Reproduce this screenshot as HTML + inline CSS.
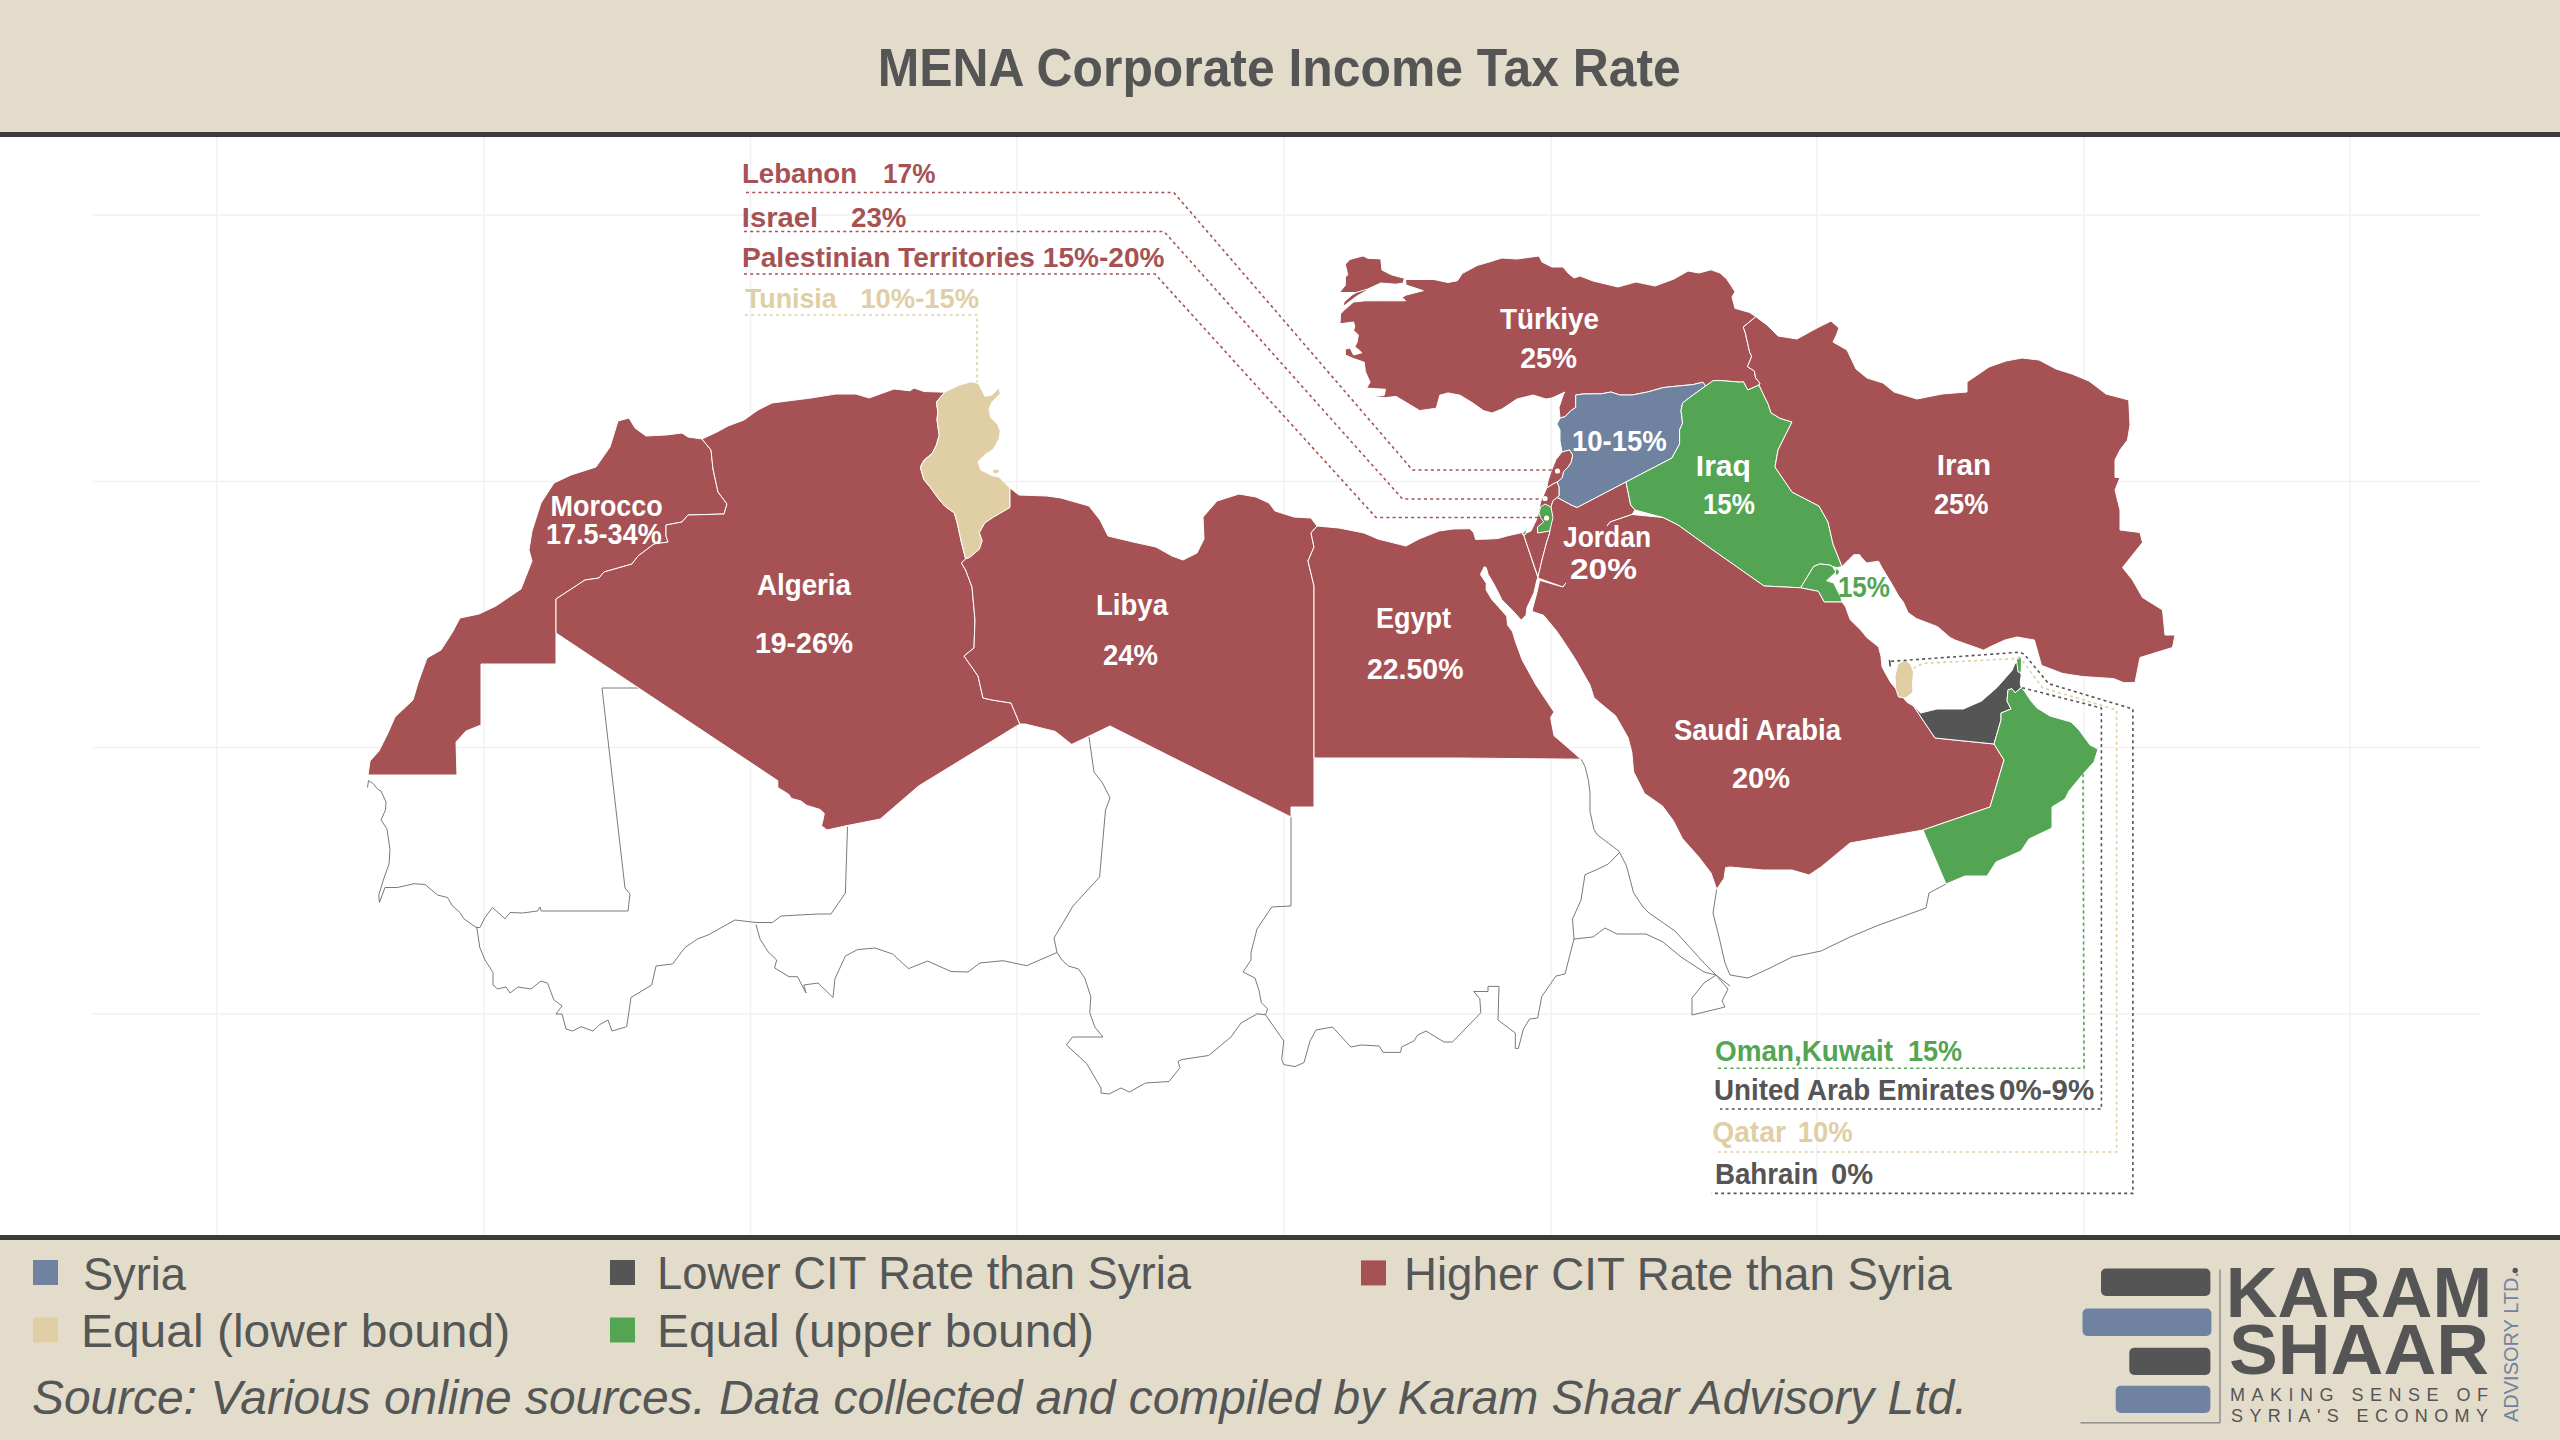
<!DOCTYPE html><html><head><meta charset="utf-8"><style>html,body{margin:0;padding:0;background:#fff;width:2560px;height:1440px;overflow:hidden}svg{display:block;font-family:"Liberation Sans",sans-serif}</style></head><body>
<svg width="2560" height="1440" viewBox="0 0 2560 1440">
<rect x="0" y="0" width="2560" height="1440" fill="#fff"/>
<g stroke="#f1f1f1" stroke-width="1.4"><line x1="217" y1="137" x2="217" y2="1235"/><line x1="484" y1="137" x2="484" y2="1235"/><line x1="750.5" y1="137" x2="750.5" y2="1235"/><line x1="1017" y1="137" x2="1017" y2="1235"/><line x1="1284" y1="137" x2="1284" y2="1235"/><line x1="1551" y1="137" x2="1551" y2="1235"/><line x1="1817" y1="137" x2="1817" y2="1235"/><line x1="2084" y1="137" x2="2084" y2="1235"/><line x1="2350" y1="137" x2="2350" y2="1235"/><line x1="93" y1="215" x2="2480" y2="215"/><line x1="93" y1="481.5" x2="2480" y2="481.5"/><line x1="93" y1="747.5" x2="2480" y2="747.5"/><line x1="93" y1="1014" x2="2480" y2="1014"/></g>
<g fill="none" stroke="#7a7a7a" stroke-width="1.0" stroke-linejoin="round"><polyline points="367.5,787.5 368.5,780.5 372.5,783 378,789.5 381,791 386,802 385.5,810 381,820 387,829 390,849.6 389,864 383.75,878.75 378.75,895 379.4,902.5 385,887.5 397.5,887.5 413.75,883.75 425,884.4 437.5,895 447.5,897.5 452.5,906 460,912.5 463.75,918.75 476.25,927.5 480,927.5 485,917.5 492.5,907.5 505,918.75 510,912.5 522.5,913 537.5,911 540,907 541.25,911 628,911 630,894 625,888 602,688 641.5,688"/><polyline points="476.7,926.7 479.8,947.5 485,960 493,972.5 493,985 497.5,989 506,987 510,993 518,987 531,989 541,981 547.5,983 553.75,999.6 562,1006 556,1014 562,1014 566,1029 572.5,1031 581,1026.7 593,1031 599.6,1024.6 608,1020 612,1031 626.7,1026.7 631,997.5 651.7,985 656,966 672.5,964 685,947.5 697.5,939 708,935 735,920 756,922.5 772.5,922.5 781,916 818,914 831,914 845.4,893 847.5,826.7"/><polyline points="756,924.6 760,939 768,951.7 776.7,960 774.6,968 789,976.7 797.5,976.7 806,993 803.75,985 818,983 833,997.5 835,978.75 845.4,956 857.5,949.6 875,948 892.5,954 908.6,968.6 927.5,961 951,971.5 968,972 980,963 1003,960.7 1026.7,965.7 1057,952.5"/><polyline points="1089,737 1094,772 1102.5,783 1110,798 1105.5,810 1099.6,877 1073,906 1054,938 1057,952.5"/><polyline points="1057,952.5 1062,960 1068.4,966 1078.6,969 1084.7,978 1090.8,996.6 1089.8,1012.8 1094.8,1027 1103,1037 1072.5,1037 1066.4,1045 1086.7,1063.6 1101,1088 1101,1093 1109,1094 1121,1088 1129.4,1092 1145.6,1083 1169,1081.5 1180,1067.7 1178,1061.6 1182,1059.5 1208.6,1055.5 1231,1037 1241,1023 1257.3,1013.8 1265.5,1014.8"/><polyline points="1291,817 1291,906 1271.7,907 1257,929 1251,952.5 1251,960 1243,972 1255,978 1259,990.5 1261.4,1002.7 1267.5,1008.8 1265.5,1014.8 1283.8,1041 1281.7,1059.5 1283.8,1064.6 1295,1066.6 1304,1062.6 1310,1041 1316,1030 1332.5,1027 1350.8,1047 1361,1045 1379.2,1046 1383,1052.4 1400.6,1052.4 1401.6,1047 1413.8,1041 1417.8,1035 1426,1031 1444,1042 1452.4,1042 1480.8,1012.8 1479.8,998.6 1473.7,991.5 1488,991.5 1488,986.4 1499,986.4 1498,1020 1515.3,1033 1515.3,1048.4 1518.4,1048.4 1523.4,1029 1529.6,1019 1537.7,1018 1541.7,996.6 1556,976 1565,974 1574,939 1572.5,919 1581,900 1585,874.7 1597.5,869.3 1608.3,864 1619,853"/><polyline points="1581,759.2 1585,766.4 1588.5,780.8 1590,793.5 1590,811.5 1594,829.6 1597.5,835 1612,845.8 1619,851.3 1626.4,865.7 1633.6,892.8 1643,907 1649,913 1675,931 1704,963 1716,975 1730,986"/><polyline points="1574,939 1593,937 1605,928 1617,934 1646,934 1663,942 1681,957 1704,972 1716,975"/><polyline points="1716,975 1728,989 1722,1001 1725,1007 1692,1015 1692,998 1704,983 1716,975"/><polyline points="1716.7,889.2 1713,913 1719,937 1725,963 1730,975 1748,978 1768,969 1792,957 1821,951 1850,937 1879,925 1926,908 1929,893 1946,884"/></g>
<g stroke="#fff" stroke-width="1.0" stroke-linejoin="round"><polygon fill="#A65254" points="618,421 629,418 635,428 646,436 666,435 682,433 688,437 702,439 711,450 713,469 718,492 727,504 724,514 688,515 682,522 666,525 666,536 668,542 654,544 638,556 632,564 604,572 599,578 585,580 556,599 556,633 556,664 481,664 481,725 466,731 456,742 457,775 368,775 370,761 379,751 388,733 395,717 413,700 418,683 427,658 441,650 452,633 460,618 479,614 496,606 521,589 532,561 529,550 532,531 541,503 554,483 571,475 596,467 610,447"/><polygon fill="#A65254" points="702,439 717,432 728,426 744,420 758,410 772,403 811,398 836,394 856,394 869,398 894,389 910,390.8 914,388 924,391.5 944.7,392.2 936.4,402 937.8,411.7 937,420 939.2,435.3 936.4,445 932.2,453.3 923.9,460.3 920.4,467.2 923.9,479.7 930.8,488 937.8,497.8 944.7,506 954.4,513 957.2,522.8 961.4,542.2 965.6,558.9 961.4,563 965.6,570 972,587 975,620 974,648 964,656 978,676 983,698 992,700 1011,703 1019.8,724 918.6,786 880.3,819 846,825.8 827,830 821.5,825.8 822.9,820.3 824.3,813.5 820,809.4 806.5,805.3 801,801 791.4,798.4 788.7,794.3 777.8,787.5 777.8,780.7 556,633 556,599 585,580 599,578 604,572 632,564 638,556 654,544 668,542 666,536 666,525 682,522 688,515 724,514 727,504 718,492 713,469 711,450"/><polygon fill="#E0CFA5" points="944.7,392.2 936.4,402 937.8,411.7 937,420 939.2,435.3 936.4,445 932.2,453.3 923.9,460.3 920.4,467.2 923.9,479.7 930.8,488 937.8,497.8 944.7,506 954.4,513 957.2,522.8 961.4,542.2 965.6,558.9 965.6,558.9 969.7,557.5 979.4,549.2 982.2,540.8 979.4,532.5 985,522.8 993.3,517.2 1010,507.5 1010,488 1004.4,482.5 998.9,477 992,475.6 980.8,470 978,461.7 985,454.7 993.3,449.2 998.9,439.4 1000.3,431 997.5,424.2 990.6,417.2 989.2,408.9 992,402 1000.3,393.6 998.9,388 992,395 985,396.4 980.8,388 978,383.2 971.1,381.8 958.6,385.3 950.3,389.4"/><polygon fill="#A65254" points="1010,488 1019,495 1047,496 1061,498 1089,506 1100,520 1108,536 1133,542 1156,547 1172,556 1183,560 1197,553 1204,539 1203,517 1217,501 1239,494 1256,497 1269,503 1275,511 1294,517 1311,518 1317,526 1311,533 1314,547 1308,561 1314,586 1314,758 1314,807 1291,807 1291,817 1110,726 1071.7,744.4 1055.3,731.4 1025.2,724 1019.8,724 1011,703 992,700 983,698 978,676 964,656 974,648 975,620 972,587 965.6,570 961.4,563 965.6,558.9 965.6,558.9 969.7,557.5 979.4,549.2 982.2,540.8 979.4,532.5 985,522.8 993.3,517.2 1010,507.5"/><polygon fill="#A65254" points="1317,526 1339,528 1364,533 1378,539 1406,546 1419,539 1439,531 1453,529 1469.7,528.7 1473.6,532.6 1475.6,539.4 1489.2,539 1497.9,538.5 1508.6,535.6 1522.2,532.6 1524,536 1537.8,577.4 1536.8,580.3 1533.9,592.9 1527,607.5 1526,615.3 1521.2,620.1 1512.5,610.4 1501.8,599.7 1499,593.9 1494,584.2 1488.2,574.4 1486.2,567.6 1484.3,566.7 1480.4,574.4 1486.2,583.2 1486.2,590 1492,599.7 1499,607.5 1506.7,616.2 1507.6,625 1512.5,631.8 1515.4,641.5 1522.2,660 1536,685 1554,712 1550.6,717.6 1554,735.7 1568.6,748.3 1581,759.2 1458,758 1314,758 1314,586 1308,561 1314,547 1311,533"/><polygon fill="#A65254" points="1405.6,279.5 1412.6,279.5 1434,279.5 1448,282.5 1457.5,280.7 1462.2,273.6 1477.6,265.3 1490,261.8 1502,258 1517,259 1539,256 1542,262 1552,267 1563,267 1568,273 1574,278 1580,276 1593,281 1618,287 1636,282 1655,286 1674,279 1688,271 1699,273 1711,269.8 1720,273 1726.7,279 1735,291.7 1732,297 1735,308.3 1749.6,312.5 1755.8,316.7 1743.3,327 1745.4,333.3 1749.6,352 1751.7,356.25 1747.5,366.7 1754.4,371 1755.6,377.8 1760,383.3 1759,385 1747.8,390 1743.3,381.7 1740.6,382.2 1721,380.6 1713.3,380.6 1705.6,386 1702.8,382.2 1693,384.6 1678,386 1663,387.6 1647.5,392 1632,395 1620,395 1611,392 1601.7,393.75 1583,394 1575.7,395 1575.7,407.5 1571,410.6 1565,416.7 1560,418 1559,407.5 1563.5,394 1565,392 1552,398 1546,399 1533,395 1517,399 1502,409 1492,413 1483.5,410.6 1471.7,402.3 1460,395.2 1448,392.9 1439.8,395.2 1436.3,408.2 1419.7,410.6 1408,403.5 1396,396.4 1385.5,397.6 1371.3,396.4 1384.3,395.2 1385.5,389.3 1366.6,388.1 1370.1,382.2 1365.4,371.6 1364.2,362.2 1353.6,358.6 1345.3,355 1345.3,349.2 1350,348 1353.6,355 1361.9,352.7 1359.5,350.4 1354.8,346.8 1357.2,342 1358.3,335 1353.6,330.3 1354.8,326.7 1353.6,322 1340,323.8 1340.6,313.8 1345.3,309 1353.6,302 1365.4,300.8 1379.6,300.8 1405.6,300.8 1402,297.2 1406.7,294.9 1423.3,290.7 1406,285"/><polygon fill="#A65254" points="1363,288.5 1368.5,289.5 1357,296 1347,303.5 1343,306.5 1344,302 1352,295"/><polygon fill="#A65254" points="1345.3,264.2 1350,259.4 1363,255.9 1367.8,258.3 1380.8,258.9 1382,270 1391.4,274.8 1404.4,278.3 1403.2,283 1396,284.2 1380.8,283 1367.8,289 1356,292.5 1339.4,292.5 1345.3,285.4 1345.3,277.2 1347.7,274.8"/><polygon fill="#6F83A1" points="1575.7,395 1583,394 1601.7,393.75 1611,392 1620,395 1632,395 1647.5,392 1663,387.6 1678,386 1693,384.6 1702.8,382.2 1705.6,386 1693,395 1682.6,403 1681,410.6 1682.6,423 1679.6,430 1679.6,444 1673.5,455 1672,458 1626,482 1577,507.6 1571,505 1560,499 1557,497.6 1559,496 1559,487 1557,482 1562,478 1563.5,471.7 1568,467 1571,462.5 1572.6,455 1569.6,450 1562,452 1560,441 1560,430 1557,424 1560,418 1565,416.7 1571,410.6 1575.7,407.5"/><polygon fill="#A65254" points="1562,452 1569.6,450 1572.6,455 1571,462.5 1568,467 1563.5,471.7 1562,478 1557,482 1553,484 1546.7,488 1548,481 1551,471.7 1556,459.5"/><polygon fill="#A65254" points="1546.7,488 1553,484 1557,482 1559,487 1559,496 1557,497.6 1553,500.7 1551,507 1549.7,533 1546.7,542 1542,560 1538,577 1524,536 1524,534 1531,531 1537.5,517.5 1540.6,502"/><polygon fill="#A65254" points="1557,497.6 1560,499 1571,505 1577,507.6 1626,482 1630.7,505 1635,510 1632,514.5 1610,522 1563,587 1538.7,578.3 1538,577 1542,560 1546.7,542 1549.7,533 1551,507 1553,500.7"/><polygon fill="#53A553" points="1705.6,386 1713.3,380.6 1721,380.6 1740.6,382.2 1743.3,381.7 1747.8,390 1759,385 1765.6,398.9 1768.3,404.4 1771,412.8 1780,418.3 1792,422 1778,450 1775,467 1792,492 1819,506 1828,522 1833,544 1842,566.5 1837,567.7 1832.5,566.5 1829,564.8 1819.5,564 1813.6,566.5 1800.6,587.8 1764,586 1710,548 1678,525 1663,517.5 1635,510 1630.7,505 1626,482 1672,458 1673.5,455 1679.6,444 1679.6,430 1682.6,423 1681,410.6 1682.6,403 1693,395"/><polygon fill="#53A553" points="1800.6,587.8 1813.6,566.5 1819.5,564 1829,564.8 1832.5,566.5 1836,572 1826.6,580.7 1833.7,583 1840.8,597.2 1842,602 1824.2,602 1818.3,591.3"/><polygon fill="#53A553" points="1836,568 1839.5,571 1838.5,575 1835,574.8"/><polygon fill="#A65254" points="1755.8,316.7 1767,325 1778,336 1797,339 1817,328 1831,321 1839,328 1836,336 1833,342 1847,350 1856,369 1867,378 1883,383 1894,392 1917,399 1942,394 1967,392 1967,382 1989,367 2006,361 2022,358 2039,360 2056,369 2072,374 2089,381 2106,394 2128.75,400 2130,425 2127.5,440 2120,450 2115,460 2115,477.5 2120,477.5 2115,490 2120,510 2120,530 2140,532.5 2142.5,542.5 2122.5,567.5 2132.5,580 2142.5,597.5 2162.5,610 2165,635 2175,635 2172.5,647.5 2140,657.5 2135,682.5 2123.8,682.7 2113.6,678.6 2083,676.6 2062.8,673.5 2041.5,665.4 2034.4,640 2017,637 2005,640 1991.7,646 1983.6,650.2 1955,640 1950,637.4 1937.6,626.7 1916.3,618.5 1908,612.6 1903.3,602 1898.6,596 1892.7,585.4 1882,567.7 1878.5,561.2 1866.7,563 1861,557 1859.7,554.7 1853.8,554.7 1849,559.4 1842,566.5 1833,544 1828,522 1819,506 1792,492 1775,467 1778,450 1792,422 1780,418.3 1771,412.8 1768.3,404.4 1765.6,398.9 1759,385 1760,383.3 1755.6,377.8 1754.4,371 1747.5,366.7 1751.7,356.25 1749.6,352 1745.4,333.3 1743.3,327"/><polygon fill="#A65254" points="1539.7,580.3 1563,587 1610,522 1632,514.5 1663,517.5 1678,525 1710,548 1764,586 1800.6,587.8 1818.3,591.3 1824.2,602 1842,602 1845.5,606.7 1850.2,619.7 1861,630.3 1866.7,637.4 1878.5,646.8 1881,656.3 1882,667 1890.4,682.2 1907,702.3 1913.5,706 1935,738 1994,744 2004,760 1990,807 1923,830 1850,843 1821,867 1809,875 1792,870 1763,870 1730,867 1725.7,867.5 1724,878.4 1716.7,889.2 1711,873 1698.6,856.7 1682.4,838.6 1673.3,820.6 1662.5,806 1644.5,793.5 1633.6,771.8 1631.8,752 1628,737.5 1615.6,715.8 1604.7,706.8 1594,697.8 1590,685 1575.8,660 1567,646.4 1557.2,631.8 1543.6,615.3 1532,611.4 1532.9,607.5 1536.8,592.9 1539.7,580.3"/><polygon fill="#555555" points="1913.5,706 1920.6,713 1937,709 1963.3,709 1981.6,701 1996.8,687.7 2012,670.5 2015,663.4 2018,662 2021.2,675.5 2020.2,682.7 2021.2,687.7 2015,692.8 2012,688.75 2008,689.8 2007,701 2011,709 2001,713 2001,720 1994,744 1935,738"/><polygon fill="#53A553" points="2008,689.8 2012,688.75 2015,692.8 2021.2,687.7 2023,689 2031,701 2037,708 2050,716 2071,722 2079,730 2090,745 2098,749 2094,762 2083,774 2069,791 2065,799 2052,807 2052,828 2029,839 2021,851 1996,862 1987,876 1965,876 1946,884 1923,830 1990,807 2004,760 1994,744 2001,720 2001,713 2011,709 2007,701"/><polygon fill="#53A553" points="2016.5,660 2019,656 2021.5,658 2021.2,672.5 2018,672"/><polygon fill="#E0CFA5" points="993,469.5 998,469 999.5,472 996,474 992.5,472.5"/><polygon fill="#E0CFA5" points="1898,664 1905.5,659.5 1911,665 1913.5,672 1912.5,684 1913,692 1906,698 1898.5,697 1895.5,688 1895,676"/><polygon fill="#555555" points="1888,659 1891,660 1891.5,666 1889.5,668 1888.5,664"/><polygon fill="#53A553" points="1540.6,507 1545,504 1551,507 1553,517.5 1549.7,531 1537.5,533 1537.5,527 1543.6,522 1540.6,517.5 1539,513"/><polygon fill="#53A553" points="1522,534 1527.6,528 1525,535"/></g>
<g fill="#fff"></g>
<polyline points="1566,583 1607,526" stroke="#A65254" stroke-width="2.5" fill="none"/>
<polyline points="746,192.5 1173.75,192.5 1412.5,470 1557.5,470" fill="none" stroke="#A65254" stroke-width="1.6" stroke-dasharray="3 3.2"/>
<polyline points="744,231.5 1164,231.5 1402.5,499 1545,499" fill="none" stroke="#A65254" stroke-width="1.6" stroke-dasharray="3 3.2"/>
<polyline points="744,274 1155,274 1376,517.5 1546,517.5" fill="none" stroke="#A65254" stroke-width="1.6" stroke-dasharray="3 3.2"/>
<polyline points="745,315 977,315 977,382" fill="none" stroke="#E0CFA5" stroke-width="1.6" stroke-dasharray="3 3.2"/>
<g fill="#fff"><circle cx="1557.5" cy="471" r="2.6"/><circle cx="1545" cy="498.5" r="2.6"/><circle cx="1546.5" cy="518" r="2.6"/></g>
<polyline points="1891.2,661.3 2020.2,652.2 2024.2,654.2 2048.6,683.7 2132.9,709 2132.9,1193.4 1711.6,1193.4" fill="none" stroke="#555555" stroke-width="1.6" stroke-dasharray="3 3.2"/>
<polyline points="1913.5,668.4 1922.7,663.4 2020.2,658.3 2022,660.3 2042.5,687.7 2116.6,710 2116.6,1152 1714,1152" fill="none" stroke="#E0CFA5" stroke-width="1.6" stroke-dasharray="3 3.2"/>
<polyline points="2022.2,687.7 2101.4,708 2101.4,1109 1720,1109" fill="none" stroke="#555555" stroke-width="1.6" stroke-dasharray="3 3.2"/>
<polyline points="2083,774 2084,1068.2 1716,1068.2" fill="none" stroke="#53A553" stroke-width="1.6" stroke-dasharray="3 3.2"/>
<rect x="0" y="0" width="2560" height="132" fill="#E3DCCB"/>
<rect x="0" y="132" width="2560" height="5" fill="#3B3B3D"/>
<rect x="0" y="1235" width="2560" height="5" fill="#3B3B3D"/>
<rect x="0" y="1240" width="2560" height="200" fill="#E3DCCB"/>
<rect x="33" y="1260" width="25" height="25" fill="#6F83A1"/>
<rect x="33" y="1317.5" width="25" height="25" fill="#E0CFA5"/>
<rect x="610" y="1260" width="25" height="25" fill="#555555"/>
<rect x="610" y="1317.5" width="25" height="25" fill="#53A553"/>
<rect x="1361" y="1260.4" width="25" height="25" fill="#A65254"/>
<rect x="2101" y="1268.6" width="109.4" height="27.3" rx="5" fill="#555555"/>
<rect x="2082.5" y="1308.6" width="128.9" height="27.4" rx="5" fill="#6F83A1"/>
<rect x="2129.3" y="1347.7" width="81.1" height="27.3" rx="5" fill="#555555"/>
<rect x="2115.7" y="1385.7" width="94.7" height="27.3" rx="5" fill="#6F83A1"/>
<polyline points="2220,1269.5 2220,1422.9 2080.5,1422.9" fill="none" stroke="#6a6a6a" stroke-width="1"/>
<text x="0" y="0" font-size="19.5" fill="#6F83A1" textLength="150" lengthAdjust="spacingAndGlyphs" transform="translate(2517.8,1422) rotate(-90)">ADVISORY LTD.</text>
<circle cx="2515.2" cy="1270.5" r="2.7" fill="#555555"/>
<text x="877.87" y="86.4" font-size="54" font-weight="bold" font-style="normal" fill="#555555" textLength="802.94" lengthAdjust="spacingAndGlyphs">MENA Corporate Income Tax Rate</text>
<text x="741.94" y="183.4" font-size="28" font-weight="bold" font-style="normal" fill="#A65254" textLength="115.22" lengthAdjust="spacingAndGlyphs">Lebanon</text>
<text x="883.04" y="183.4" font-size="28" font-weight="bold" font-style="normal" fill="#A65254" textLength="52.40" lengthAdjust="spacingAndGlyphs">17%</text>
<text x="741.88" y="226.5" font-size="28" font-weight="bold" font-style="normal" fill="#A65254" textLength="76.24" lengthAdjust="spacingAndGlyphs">Israel</text>
<text x="850.97" y="226.5" font-size="28" font-weight="bold" font-style="normal" fill="#A65254" textLength="55.46" lengthAdjust="spacingAndGlyphs">23%</text>
<text x="741.99" y="267" font-size="28" font-weight="bold" font-style="normal" fill="#A65254" textLength="422.62" lengthAdjust="spacingAndGlyphs">Palestinian Territories 15%-20%</text>
<text x="745.00" y="308.2" font-size="28" font-weight="bold" font-style="normal" fill="#E0CFA5" textLength="91.61" lengthAdjust="spacingAndGlyphs">Tunisia</text>
<text x="860.38" y="308.2" font-size="28" font-weight="bold" font-style="normal" fill="#E0CFA5" textLength="118.73" lengthAdjust="spacingAndGlyphs">10%-15%</text>
<text x="1714.99" y="1061.3" font-size="29" font-weight="bold" font-style="normal" fill="#53A553" textLength="178.01" lengthAdjust="spacingAndGlyphs">Oman,Kuwait</text>
<text x="1907.88" y="1061.3" font-size="29" font-weight="bold" font-style="normal" fill="#53A553" textLength="54.19" lengthAdjust="spacingAndGlyphs">15%</text>
<text x="1713.98" y="1100" font-size="29" font-weight="bold" font-style="normal" fill="#555555" textLength="281.14" lengthAdjust="spacingAndGlyphs">United Arab Emirates</text>
<text x="1998.98" y="1100" font-size="29" font-weight="bold" font-style="normal" fill="#555555" textLength="95.23" lengthAdjust="spacingAndGlyphs">0%-9%</text>
<text x="1712.17" y="1142" font-size="29" font-weight="bold" font-style="normal" fill="#E0CFA5" textLength="73.83" lengthAdjust="spacingAndGlyphs">Qatar</text>
<text x="1797.75" y="1142" font-size="29" font-weight="bold" font-style="normal" fill="#E0CFA5" textLength="55.08" lengthAdjust="spacingAndGlyphs">10%</text>
<text x="1714.93" y="1184.4" font-size="29" font-weight="bold" font-style="normal" fill="#555555" textLength="103.23" lengthAdjust="spacingAndGlyphs">Bahrain</text>
<text x="1830.95" y="1184.4" font-size="29" font-weight="bold" font-style="normal" fill="#555555" textLength="42.11" lengthAdjust="spacingAndGlyphs">0%</text>
<text x="1499.89" y="329" font-size="29.5" font-weight="bold" font-style="normal" fill="#fff" textLength="99.13" lengthAdjust="spacingAndGlyphs">Türkiye</text>
<text x="1520.17" y="368" font-size="29.5" font-weight="bold" font-style="normal" fill="#fff" textLength="56.87" lengthAdjust="spacingAndGlyphs">25%</text>
<text x="1571.95" y="451" font-size="29.5" font-weight="bold" font-style="normal" fill="#fff" textLength="94.87" lengthAdjust="spacingAndGlyphs">10-15%</text>
<text x="1695.82" y="476" font-size="29.5" font-weight="bold" font-style="normal" fill="#fff" textLength="55.13" lengthAdjust="spacingAndGlyphs">Iraq</text>
<text x="1702.89" y="514" font-size="29.5" font-weight="bold" font-style="normal" fill="#fff" textLength="52.15" lengthAdjust="spacingAndGlyphs">15%</text>
<text x="1936.83" y="475" font-size="29.5" font-weight="bold" font-style="normal" fill="#fff" textLength="54.35" lengthAdjust="spacingAndGlyphs">Iran</text>
<text x="1933.96" y="514" font-size="29.5" font-weight="bold" font-style="normal" fill="#fff" textLength="54.56" lengthAdjust="spacingAndGlyphs">25%</text>
<text x="1562.96" y="546.5" font-size="29.5" font-weight="bold" font-style="normal" fill="#fff" textLength="88.08" lengthAdjust="spacingAndGlyphs">Jordan</text>
<text x="1569.97" y="579.4" font-size="29.5" font-weight="bold" font-style="normal" fill="#fff" textLength="67.06" lengthAdjust="spacingAndGlyphs">20%</text>
<text x="1673.99" y="740" font-size="29.5" font-weight="bold" font-style="normal" fill="#fff" textLength="167.01" lengthAdjust="spacingAndGlyphs">Saudi Arabia</text>
<text x="1731.96" y="788" font-size="29.5" font-weight="bold" font-style="normal" fill="#fff" textLength="58.07" lengthAdjust="spacingAndGlyphs">20%</text>
<text x="1375.94" y="628" font-size="29.5" font-weight="bold" font-style="normal" fill="#fff" textLength="75.06" lengthAdjust="spacingAndGlyphs">Egypt</text>
<text x="1366.98" y="679" font-size="29.5" font-weight="bold" font-style="normal" fill="#fff" textLength="96.53" lengthAdjust="spacingAndGlyphs">22.50%</text>
<text x="1095.94" y="615" font-size="29.5" font-weight="bold" font-style="normal" fill="#fff" textLength="72.06" lengthAdjust="spacingAndGlyphs">Libya</text>
<text x="1102.96" y="665" font-size="29.5" font-weight="bold" font-style="normal" fill="#fff" textLength="55.08" lengthAdjust="spacingAndGlyphs">24%</text>
<text x="756.99" y="595" font-size="29.5" font-weight="bold" font-style="normal" fill="#fff" textLength="94.01" lengthAdjust="spacingAndGlyphs">Algeria</text>
<text x="754.93" y="653" font-size="29.5" font-weight="bold" font-style="normal" fill="#fff" textLength="98.10" lengthAdjust="spacingAndGlyphs">19-26%</text>
<text x="550.56" y="515.9" font-size="29.5" font-weight="bold" font-style="normal" fill="#fff" textLength="112.16" lengthAdjust="spacingAndGlyphs">Morocco</text>
<text x="545.95" y="544" font-size="29.5" font-weight="bold" font-style="normal" fill="#fff" textLength="115.80" lengthAdjust="spacingAndGlyphs">17.5-34%</text>
<text x="1837.89" y="597" font-size="29.5" font-weight="bold" font-style="normal" fill="#53A553" textLength="52.15" lengthAdjust="spacingAndGlyphs">15%</text>
<text x="82.96" y="1290" font-size="47" font-weight="normal" font-style="normal" fill="#545756" textLength="103.04" lengthAdjust="spacingAndGlyphs">Syria</text>
<text x="80.94" y="1346.7" font-size="47" font-weight="normal" font-style="normal" fill="#545756" textLength="429.20" lengthAdjust="spacingAndGlyphs">Equal (lower bound)</text>
<text x="657.08" y="1288.7" font-size="47" font-weight="normal" font-style="normal" fill="#545756" textLength="533.92" lengthAdjust="spacingAndGlyphs">Lower CIT Rate than Syria</text>
<text x="657.03" y="1346.5" font-size="47" font-weight="normal" font-style="normal" fill="#545756" textLength="437.02" lengthAdjust="spacingAndGlyphs">Equal (upper bound)</text>
<text x="1403.97" y="1289.6" font-size="47" font-weight="normal" font-style="normal" fill="#545756" textLength="547.63" lengthAdjust="spacingAndGlyphs">Higher CIT Rate than Syria</text>
<text x="31.99" y="1414" font-size="48" font-weight="normal" font-style="italic" fill="#545756" textLength="1935.43" lengthAdjust="spacingAndGlyphs">Source: Various online sources. Data collected and compiled by Karam Shaar Advisory Ltd.</text>
<text x="2225.80" y="1317.4" font-size="70" font-weight="bold" font-style="normal" fill="#555555" textLength="266.41" lengthAdjust="spacingAndGlyphs">KARAM</text>
<text x="2228.97" y="1374" font-size="70" font-weight="bold" font-style="normal" fill="#555555" textLength="260.06" lengthAdjust="spacingAndGlyphs">SHAAR</text>
<text x="2229.98" y="1401.4" font-size="18" font-weight="normal" font-style="normal" fill="#555555" textLength="258.00" lengthAdjust="spacing">MAKING SENSE OF</text>
<text x="2230.99" y="1422" font-size="18" font-weight="normal" font-style="normal" fill="#555555" textLength="257.00" lengthAdjust="spacing">SYRIA'S ECONOMY</text>
</svg></body></html>
